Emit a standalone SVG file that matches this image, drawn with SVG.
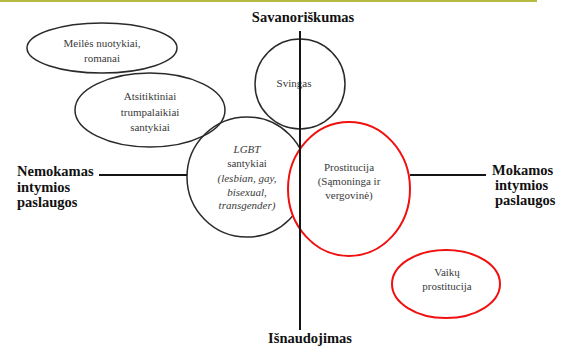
<svg xmlns="http://www.w3.org/2000/svg" width="567" height="347" viewBox="0 0 567 347">
<style>
text{font-family:'Liberation Serif','Tinos','DejaVu Serif','Noto Serif',serif}
.n{font-size:11px;fill:#3a3a3a;text-anchor:middle}
.i{font-style:italic}
.h{font-size:14.5px;font-weight:bold;fill:#111}
.blk{fill:none;stroke:#2a2a2a;stroke-width:1.5}
.red{fill:#fff;stroke:#f01010;stroke-width:2}
.ax{stroke:#151515;stroke-width:2;fill:none}
</style>
<rect x="0" y="0" width="537" height="2" fill="#b7ba40"/>
<g id="meiles">
<ellipse class="blk" cx="102" cy="48" rx="75" ry="25"/>
<text class="n" x="102" y="47">Meilės nuotykiai,</text>
<text class="n" x="102" y="62">romanai</text>
</g>
<g id="atsitiktiniai">
<ellipse class="blk" cx="150" cy="110" rx="75" ry="37"/>
<text class="n" x="150" y="100">Atsitiktiniai</text>
<text class="n" x="150" y="116">trumpalaikiai</text>
<text class="n" x="150" y="131">santykiai</text>
</g>
<g id="svingas">
<circle class="blk" cx="300" cy="84" r="45"/>
<text class="n" x="294" y="87">Svingas</text>
</g>
<g id="lgbt">
<circle class="blk" cx="247" cy="177" r="60"/>
<text class="n i" x="247" y="153">LGBT</text>
<text class="n" x="247" y="167">santykiai</text>
<text class="n i" x="247" y="182">(lesbian, gay,</text>
<text class="n i" x="247" y="196">bisexual,</text>
<text class="n i" x="247" y="209">transgender)</text>
</g>
<g id="prostitucija">
<ellipse class="red" cx="349" cy="189" rx="61" ry="67"/>
<text class="n" x="349" y="171">Prostitucija</text>
<text class="n" x="349" y="185">(Sąmoninga ir</text>
<text class="n" x="349" y="199">vergovinė)</text>
</g>
<g id="vaiku">
<ellipse class="red" cx="446" cy="284" rx="54" ry="34"/>
<text class="n" x="447" y="276">Vaikų</text>
<text class="n" x="447" y="290">prostitucija</text>
</g>
<g id="connectors">
<line class="ax" x1="300" y1="31" x2="300" y2="330"/>
<line class="ax" x1="99" y1="175" x2="187" y2="175"/>
<line class="ax" x1="410" y1="175" x2="486" y2="175"/>
</g>
<g id="labels">
<text class="h" x="303" y="22" text-anchor="middle">Savanoriškumas</text>
<text class="h" x="310" y="343" text-anchor="middle">Išnaudojimas</text>
<text class="h" x="17" y="176">Nemokamas</text>
<text class="h" x="17" y="192">intymios</text>
<text class="h" x="17" y="207">paslaugos</text>
<text class="h" x="492" y="175">Mokamos</text>
<text class="h" x="495" y="190">intymios</text>
<text class="h" x="495" y="205">paslaugos</text>
</g>
</svg>
